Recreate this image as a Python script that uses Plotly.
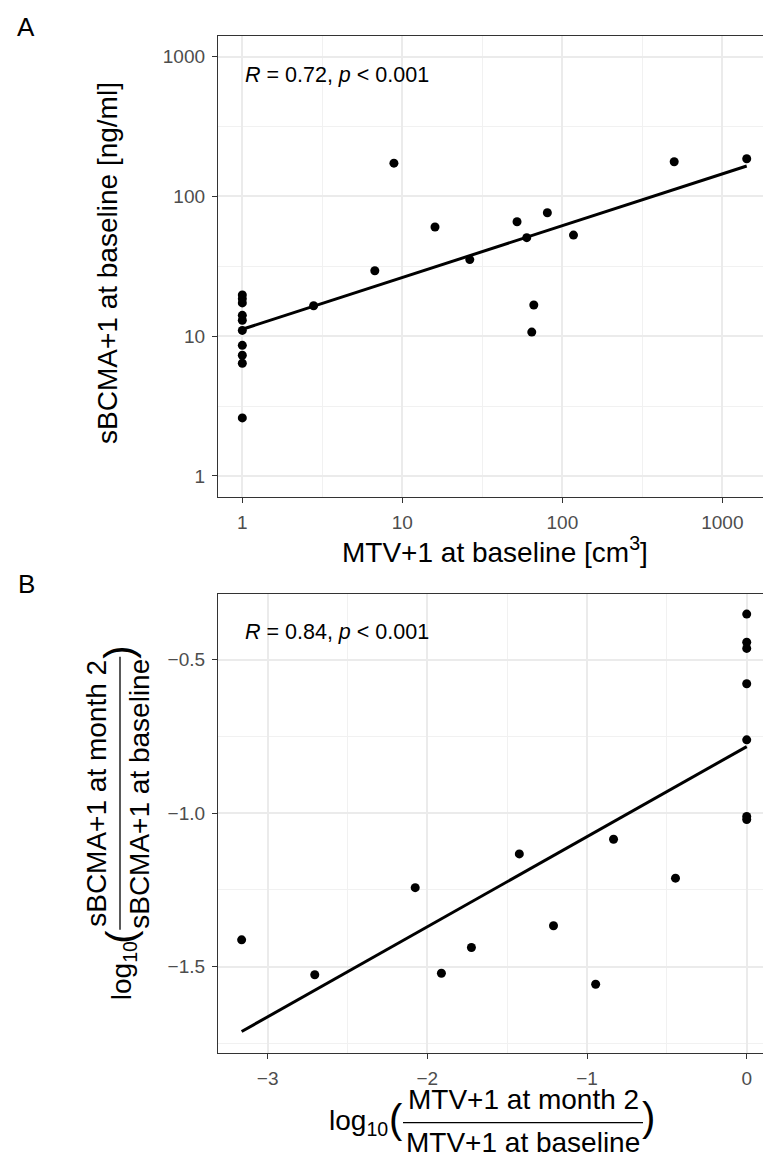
import plotly.graph_objects as go

# ---------------- data ----------------
# Panel A: baseline values (log-log)
mtv_baseline = [1, 1, 1, 1, 1, 1, 1, 1, 1, 1,
                2.79, 6.73, 8.86, 16.0, 26.4, 52.1, 59.9, 64.4, 66.3, 80.6, 117.4, 500, 1420]
sbcma_baseline = [19.7, 18.5, 17.3, 14.1, 13.0, 11.0, 8.6, 7.3, 6.4, 2.6,
                  16.5, 29.4, 173, 60.4, 35.3, 65.9, 50.7, 10.7, 16.7, 76.4, 52.9, 177, 186]
fitA_x = [1, 1420]
fitA_y = [11.2, 165]

# Panel B: log10 ratios month 2 / baseline
mtv_change = [0, 0, 0, 0, 0, 0, 0,
              -1.424, -0.834, -0.446, -2.076, -3.163, -2.705, -1.912, -1.724, -1.210, -0.946]
sbcma_change = [-0.351, -0.443, -0.463, -0.578, -0.761, -1.011, -1.021,
                -1.133, -1.085, -1.212, -1.243, -1.413, -1.527, -1.522, -1.438, -1.367, -1.558]
fitB_x = [-3.163, 0]
fitB_y = [-1.712, -0.783]

tickA_vals = [1, 10, 100, 1000]
tickA_text = ["1", "10", "100", "1000"]
minorA_vals = [3.1623, 31.623, 316.23]
tickBx_vals = [-3, -2, -1, 0]
tickBx_text = ["\u22123", "\u22122", "\u22121", "0"]
tickBy_vals = [-1.5, -1.0, -0.5]
tickBy_text = ["\u22121.5", "\u22121.0", "\u22120.5"]

statA = "<i>R</i> = 0.72, <i>p</i> &lt; 0.001"
statB = "<i>R</i> = 0.84, <i>p</i> &lt; 0.001"

# ---------------- layout helpers ----------------
W, H = 763, 1157
ML, MR, MT, MB = 218, 0, 36, 103.7
PW = W - ML - MR
PH = H - MT - MB


def px(x):
    return (x - ML) / PW


def py(y):
    return (H - MB - y) / PH


FONT = "Liberation Sans, Arial, Helvetica, sans-serif"
TICKFONT = dict(family=FONT, size=19, color="#4D4D4D")
GRID = "#EBEBEB"
MINOR = "#F1F1F1"
FRAME = "#333333"

fig = go.Figure()

fig.add_trace(go.Scatter(x=mtv_baseline, y=sbcma_baseline, mode="markers",
                         marker=dict(color="black", size=9), xaxis="x", yaxis="y",
                         showlegend=False))
fig.add_trace(go.Scatter(x=fitA_x, y=fitA_y, mode="lines",
                         line=dict(color="black", width=3), xaxis="x", yaxis="y",
                         showlegend=False))
fig.add_trace(go.Scatter(x=mtv_change, y=sbcma_change, mode="markers",
                         marker=dict(color="black", size=9), xaxis="x2", yaxis="y2",
                         showlegend=False))
fig.add_trace(go.Scatter(x=fitB_x, y=fitB_y, mode="lines",
                         line=dict(color="black", width=3), xaxis="x2", yaxis="y2",
                         showlegend=False))

common = dict(showline=True, linecolor=FRAME, linewidth=1.3, ticks="outside",
              ticklen=5, tickwidth=1.2, tickcolor=FRAME, tickfont=TICKFONT,
              showgrid=True, gridcolor=GRID, gridwidth=1.5, zeroline=False,
              ticklabelstandoff=3)

yA_bot = py(497)
yB_top = py(594)

fig.update_layout(
    width=W, height=H,
    margin=dict(l=ML, r=MR, t=MT, b=MB, autoexpand=False),
    paper_bgcolor="white", plot_bgcolor="white",
    font=dict(family=FONT, color="black"),
    xaxis=dict(type="log", range=[-0.152, 3.254], anchor="y", domain=[0, 1],
               tickvals=tickA_vals, ticktext=tickA_text, mirror=True,
               minor=dict(tickvals=minorA_vals, showgrid=True, gridcolor=MINOR,
                          gridwidth=1.0, ticks=""),
               **common),
    yaxis=dict(type="log", range=[-0.150, 3.148], anchor="x", domain=[yA_bot, 1],
               tickvals=tickA_vals, ticktext=tickA_text, mirror=False,
               minor=dict(tickvals=minorA_vals, showgrid=True, gridcolor=MINOR,
                          gridwidth=1.0, ticks=""),
               **common),
    xaxis2=dict(range=[-3.311, 0.102], anchor="y2", domain=[0, 1],
                tickvals=tickBx_vals, ticktext=tickBx_text, mirror=True,
                minor=dict(dtick=0.5, tick0=0, showgrid=True, gridcolor=MINOR,
                           gridwidth=1.0, ticks=""),
                **common),
    yaxis2=dict(range=[-1.782, -0.285], anchor="x2", domain=[0, yB_top],
                tickvals=tickBy_vals, ticktext=tickBy_text, mirror=False,
                minor=dict(dtick=0.25, tick0=0, showgrid=True, gridcolor=MINOR,
                           gridwidth=1.0, ticks=""),
                **common),
)

ann = []


def add_text(text, x, y, size, xanchor="center", yanchor="middle", angle=0, color="black"):
    ann.append(dict(text=text, x=px(x), y=py(y), xref="paper", yref="paper",
                    showarrow=False, xanchor=xanchor, yanchor=yanchor,
                    textangle=angle, font=dict(family=FONT, size=size, color=color)))


# panel tags
add_text("A", 26, 27, 26)
add_text("B", 26, 584, 26)

# stat labels
add_text(statA, 243, 75, 21.5, xanchor="left")
add_text(statB, 243, 632, 21.5, xanchor="left")

# panel A titles
add_text("sBCMA+1 at baseline [ng/ml]", 108, 263, 28, angle=-90)
add_text("MTV+1 at baseline [cm<sup>3</sup>]", 495, 550, 28)

# panel B x title (fraction)
add_text("log<sub>10</sub>", 390, 1123, 28, xanchor="right")
add_text("(", 396, 1119, 40)
add_text("MTV+1 at month 2", 523, 1100, 28)
add_text("MTV+1 at baseline", 523, 1143, 28)
add_text(")", 648, 1117, 40)

# panel B y title (fraction, rotated)
add_text("log<sub>10</sub>", 123, 1003, 28, yanchor="bottom", angle=-90)
add_text("(", 121, 937, 40, angle=-90)
add_text("sBCMA+1 at month 2", 97, 794, 28, angle=-90)
add_text("sBCMA+1 at baseline", 140, 794, 28, angle=-90)
add_text(")", 119, 653, 40, angle=-90)

fig.update_layout(annotations=ann)

shapes = [
    dict(type="line", xref="paper", yref="paper", x0=px(403), x1=px(643),
         y0=py(1123), y1=py(1123), line=dict(color="black", width=1.3)),
    dict(type="line", xref="paper", yref="paper", x0=px(120), x1=px(120),
         y0=py(657), y1=py(930), line=dict(color="black", width=1.3)),
]
fig.update_layout(shapes=shapes)

fig.write_html("out.html", config={"displayModeBar": False},
               post_script="document.body.style.margin='0';"
                           "document.body.style.padding='0';"
                           "document.body.style.overflow='hidden';"
                           "document.documentElement.style.overflow='hidden';")
